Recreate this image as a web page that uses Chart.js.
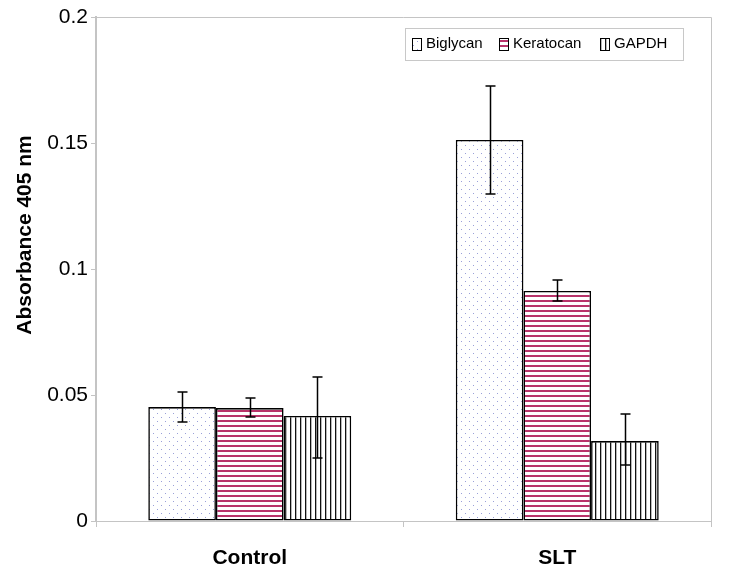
<!DOCTYPE html>
<html>
<head>
<meta charset="utf-8">
<script src="https://cdn.jsdelivr.net/npm/chart.js@4"></script>
<style>
  html, body { margin: 0; padding: 0; background: #fff; }
  #wrap { width: 729px; height: 579px; }
</style>
</head>
<body>
<div id="wrap"><canvas id="absChart" width="729" height="579"></canvas></div>
<script>
const categories = ['Control', 'SLT'];
const seriesNames = ['Biglycan', 'Keratocan', 'GAPDH'];
const biglycan = [0.0452, 0.1512];
const keratocan = [0.0448, 0.0913];
const gapdh = [0.0417, 0.0317];
// error bars (low / high)
const biglycanErr = [[0.0393, 0.0512], [0.1298, 0.1726]];
const keratocanErr = [[0.0413, 0.0488], [0.0873, 0.0956]];
const gapdhErr = [[0.0250, 0.0571], [0.0222, 0.0425]];
const yTicks = ['0', '0.05', '0.1', '0.15', '0.2'];
const yTitle = 'Absorbance 405 nm';

const FONT = "'Liberation Sans', Arial, sans-serif";
const AXIS_GRAY = '#c4c4c4';

function makePattern(kind) {
  const c = document.createElement('canvas');
  const ctx = c.getContext('2d');
  if (kind === 'dots') {
    c.width = 8; c.height = 8;
    ctx.fillStyle = '#fff';
    ctx.fillRect(0, 0, 8, 8);
    ctx.fillStyle = '#9aa0d8';
    ctx.fillRect(1, 1, 1, 1);
    ctx.fillRect(5, 5, 1, 1);
  } else if (kind === 'hlines') {
    c.width = 4; c.height = 5;
    ctx.fillStyle = '#fff';
    ctx.fillRect(0, 0, 4, 5);
    ctx.fillStyle = '#b8336a';
    ctx.fillRect(0, 0, 4, 2);
  } else {
    c.width = 5; c.height = 4;
    ctx.fillStyle = '#fff';
    ctx.fillRect(0, 0, 5, 4);
    ctx.fillStyle = '#111';
    ctx.fillRect(0, 0, 1.3, 4);
  }
  return document.createElement('canvas').getContext('2d').createPattern(c, 'repeat');
}

const patterns = [makePattern('dots'), makePattern('hlines'), makePattern('vlines')];
const errs = [biglycanErr, keratocanErr, gapdhErr];

const errorBars = {
  id: 'errorBars',
  afterDatasetsDraw(chart) {
    const { ctx } = chart;
    const y = chart.scales.y;
    ctx.save();
    ctx.strokeStyle = '#000';
    ctx.lineWidth = 1.5;
    chart.data.datasets.forEach((ds, di) => {
      const meta = chart.getDatasetMeta(di);
      meta.data.forEach((bar, i) => {
        const [lo, hi] = errs[di][i];
        const x = Math.round(bar.x) + 0.5;
        const yl = y.getPixelForValue(lo);
        const yh = y.getPixelForValue(hi);
        ctx.beginPath();
        ctx.moveTo(x, yl); ctx.lineTo(x, yh);
        ctx.moveTo(x - 5, yl); ctx.lineTo(x + 5, yl);
        ctx.moveTo(x - 5, yh); ctx.lineTo(x + 5, yh);
        ctx.stroke();
      });
    });
    ctx.restore();
  },
};

const frameAndLegend = {
  id: 'frameAndLegend',
  beforeDatasetsDraw(chart) {
    const { ctx, chartArea: a } = chart;
    ctx.save();
    ctx.strokeStyle = AXIS_GRAY;
    ctx.lineWidth = 1;
    ctx.beginPath();
    ctx.moveTo(a.left, a.top + 0.5); ctx.lineTo(a.right + 0.5, a.top + 0.5);
    ctx.lineTo(a.right + 0.5, a.bottom);
    ctx.stroke();
    // y axis title
    ctx.translate(25, 235);
    ctx.rotate(-Math.PI / 2);
    ctx.font = `bold 21px ${FONT}`;
    ctx.fillStyle = '#000';
    ctx.textAlign = 'center';
    ctx.textBaseline = 'middle';
    ctx.fillText(yTitle, 0, 0);
    ctx.restore();
  },
  afterDraw(chart) {
    const { ctx } = chart;
    const bx = 405, by = 28, bw = 278, bh = 32;
    ctx.save();
    ctx.fillStyle = '#fff';
    ctx.fillRect(bx, by, bw, bh);
    ctx.strokeStyle = '#c8c8c8';
    ctx.lineWidth = 1;
    ctx.strokeRect(bx + 0.5, by + 0.5, bw, bh);
    ctx.font = `15px ${FONT}`;
    ctx.textBaseline = 'middle';
    const xs = [412, 499, 600];
    chart.data.datasets.forEach((ds, i) => {
      const sx = xs[i], sy = 38;
      ctx.fillStyle = patterns[i];
      ctx.fillRect(sx, sy, 9, 12);
      ctx.strokeStyle = '#000';
      ctx.lineWidth = 1;
      ctx.strokeRect(sx + 0.5, sy + 0.5, 9, 12);
      ctx.fillStyle = '#000';
      ctx.fillText(ds.label, sx + 14, sy + 6);
    });
    ctx.restore();
  },
};

const datasets = seriesNames.map((name, i) => ({
  label: name,
  data: [biglycan, keratocan, gapdh][i],
  backgroundColor: patterns[i],
  borderColor: '#000',
  borderWidth: 1.6,
  borderSkipped: false,
  categoryPercentage: 0.66,
  barPercentage: 1.0,
}));

new Chart(document.getElementById('absChart'), {
  type: 'bar',
  data: { labels: categories, datasets },
  plugins: [errorBars, frameAndLegend],
  options: {
    responsive: false,
    animation: false,
    layout: { padding: { top: 17, right: 18, left: 0, bottom: 0 } },
    plugins: { legend: { display: false }, tooltip: { enabled: false } },
    scales: {
      x: {
        afterFit(scale) { scale.height = 58; },
        grid: {
          display: true,
          offset: true,
          drawOnChartArea: false,
          tickLength: 6,
          color: AXIS_GRAY,
        },
        border: { color: AXIS_GRAY },
        ticks: {
          color: '#000',
          padding: 19,
          font: { family: FONT, size: 21, weight: 'bold' },
        },
      },
      y: {
        min: 0,
        max: 0.2,
        afterFit(scale) { scale.width = 96; },
        grid: { display: true, drawOnChartArea: false, tickLength: 5, color: AXIS_GRAY },
        border: { color: AXIS_GRAY, width: 2 },
        ticks: {
          stepSize: 0.05,
          color: '#000',
          padding: 3,
          font: { family: FONT, size: 21 },
          callback: (v, i) => yTicks[i],
        },
      },
    },
  },
});
</script>
</body>
</html>
